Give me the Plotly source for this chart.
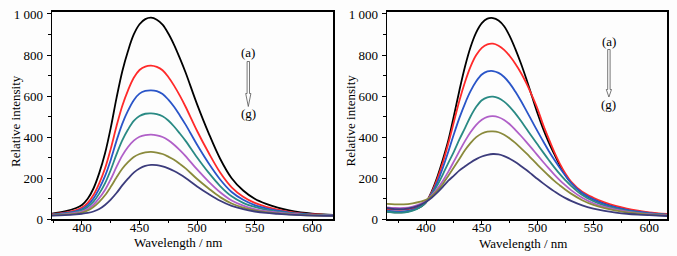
import plotly.graph_objects as go

# ---------------- data: left panel ----------------
wl_left = [374, 385, 395, 400, 405, 410, 415, 420, 425, 430, 435, 440, 445, 450, 455, 460,
           465, 470, 475, 480, 485, 490, 500, 510, 520, 530, 540, 550, 560, 570, 580, 590,
           600, 610, 618]
left_a = [28, 38, 55, 70, 100, 150, 225, 320, 445, 590, 720, 820, 900, 950, 975, 982,
          972, 948, 905, 850, 785, 715, 560, 420, 295, 200, 140, 100, 75, 57, 43, 34,
          28, 24, 22]
left_b = [25, 32, 45, 57, 80, 118, 175, 247, 343, 453, 552, 628, 689, 727, 744, 748,
          742, 726, 693, 651, 602, 548, 430, 324, 228, 156, 110, 80, 61, 47, 36, 29,
          25, 22, 20]
left_c = [23, 30, 40, 50, 69, 101, 149, 210, 289, 382, 465, 529, 580, 612, 625, 628,
          624, 610, 583, 548, 506, 461, 363, 273, 194, 133, 95, 69, 53, 42, 33, 27,
          23, 21, 19]
left_d = [22, 27, 36, 44, 60, 86, 125, 175, 240, 316, 384, 437, 479, 503, 514, 516,
          512, 502, 481, 452, 418, 382, 301, 227, 162, 112, 80, 60, 46, 37, 30, 25,
          22, 20, 19]
left_e = [20, 25, 32, 38, 50, 71, 103, 143, 195, 255, 310, 352, 383, 402, 410, 412,
          409, 401, 385, 363, 337, 308, 243, 184, 132, 92, 67, 50, 40, 33, 27, 23,
          20, 19, 18]
left_f = [19, 23, 28, 33, 43, 60, 85, 117, 158, 204, 246, 278, 303, 318, 326, 328,
          325, 318, 305, 290, 270, 248, 196, 150, 108, 77, 57, 43, 35, 29, 24, 21,
          19, 18, 17]
left_g = [18, 20, 24, 27, 31, 38, 50, 70, 96, 128, 165, 198, 227, 247, 260, 265,
          264, 258, 248, 235, 219, 201, 160, 123, 90, 65, 49, 38, 31, 27, 23, 20,
          18, 17, 17]

# ---------------- data: right panel ----------------
wl_right = [365, 372, 380, 388, 395, 400, 405, 410, 415, 420, 425, 430, 435, 440, 445, 450,
            455, 460, 465, 470, 475, 480, 485, 490, 495, 500, 505, 510, 515, 520, 525, 530,
            540, 550, 560, 570, 580, 590, 600, 616]
right_a = [37, 34, 35, 45, 60, 82, 135, 205, 290, 385, 505, 630, 745, 840, 910, 955,
           977, 980, 968, 940, 892, 830, 760, 682, 598, 515, 440, 375, 317, 262, 215, 178,
           128, 97, 76, 60, 48, 38, 31, 23]
right_b = [50, 47, 47, 53, 64, 85, 130, 195, 275, 370, 475, 580, 670, 745, 800, 835,
           852, 855, 845, 825, 795, 758, 714, 662, 602, 537, 460, 392, 327, 270, 222, 184,
           134, 105, 82, 65, 52, 42, 34, 26]
right_c = [42, 38, 38, 46, 62, 85, 125, 180, 250, 330, 415, 495, 565, 625, 672, 705,
           720, 722, 713, 693, 662, 622, 577, 528, 478, 428, 380, 333, 290, 250, 212, 178,
           128, 97, 74, 58, 46, 37, 30, 23]
right_d = [38, 33, 33, 42, 60, 84, 120, 165, 218, 275, 330, 390, 445, 502, 548, 580,
           594, 597, 590, 573, 548, 516, 480, 441, 402, 364, 326, 289, 253, 220, 190, 163,
           118, 88, 67, 52, 41, 33, 27, 21]
right_e = [58, 55, 55, 62, 75, 90, 116, 148, 187, 232, 282, 333, 382, 425, 460, 485,
           499, 502, 497, 484, 463, 436, 407, 376, 344, 311, 279, 248, 218, 190, 165, 142,
           105, 78, 60, 47, 37, 30, 25, 19]
right_f = [75, 73, 73, 78, 86, 95, 112, 138, 172, 212, 253, 295, 337, 372, 400, 418,
           427, 428, 424, 412, 394, 372, 347, 321, 293, 265, 238, 212, 187, 165, 144, 125,
           93, 70, 54, 42, 34, 28, 23, 18]
right_g = [55, 50, 50, 57, 70, 85, 105, 130, 158, 188, 213, 238, 258, 277, 293, 306,
           314, 318, 316, 308, 295, 279, 260, 240, 218, 196, 175, 155, 136, 118, 103, 90,
           68, 52, 41, 33, 27, 23, 20, 16]

series_names = ["(a)", "(b)", "(c)", "(d)", "(e)", "(f)", "(g)"]
series_colors = ["#000000", "#ff2a2a", "#2a55c8", "#2a8a84", "#b060c8", "#8a8a3c", "#3c3c7c"]

y_tickvals = [0, 200, 400, 600, 800, 1000]
y_ticktext = ["0", "200", "400", "600", "800", "1 000"]
x_tickvals = [400, 450, 500, 550, 600]

left_series = [left_a, left_b, left_c, left_d, left_e, left_f, left_g]
right_series = [right_a, right_b, right_c, right_d, right_e, right_f, right_g]

fig = go.Figure()
for name, col, ys in zip(series_names, series_colors, left_series):
    fig.add_trace(go.Scatter(x=wl_left, y=ys, mode="lines", name=name,
                             line=dict(color=col, width=1.8, shape="spline", smoothing=1.0),
                             xaxis="x", yaxis="y", showlegend=False))
for name, col, ys in zip(series_names, series_colors, right_series):
    fig.add_trace(go.Scatter(x=wl_right, y=ys, mode="lines", name=name,
                             line=dict(color=col, width=1.8, shape="spline", smoothing=1.0),
                             xaxis="x2", yaxis="y2", showlegend=False))

FONT = "Liberation Serif, Times New Roman, serif"
W, H = 677, 256

def px_x(p):
    return p / W

def px_y(p):
    return 1 - p / H

common_x = dict(showline=True, linecolor="black", linewidth=1.5, mirror=True,
                ticks="outside", ticklen=4, tickwidth=1, tickcolor="black",
                tickvals=x_tickvals, showgrid=False, zeroline=False, automargin=False,
                ticklabelstandoff=-8,
                tickfont=dict(family=FONT, size=13, color="black"),
                minor=dict(ticks="outside", ticklen=2.5, tickwidth=1, tickcolor="black", dtick=25,
                           showgrid=False))
common_y = dict(showline=True, linecolor="black", linewidth=1.5, mirror=True,
                ticks="outside", ticklen=4, tickwidth=1, tickcolor="black",
                tickvals=y_tickvals, ticktext=y_ticktext, showgrid=False, zeroline=False,
                range=[0, 1011], automargin=False, ticklabelstandoff=1,
                tickfont=dict(family=FONT, size=13, color="black"),
                minor=dict(ticks="outside", ticklen=2.5, tickwidth=1, tickcolor="black", dtick=100,
                           showgrid=False))

ydom = [px_y(219.3), px_y(11.7)]
fig.update_layout(
    width=W, height=H,
    margin=dict(l=0, r=0, t=0, b=0, autoexpand=False),
    paper_bgcolor="#fdfdfd", plot_bgcolor="#fdfdfd",
    xaxis=dict(common_x, domain=[px_x(52), px_x(333)], range=[374, 618], anchor="y"),
    yaxis=dict(common_y, domain=ydom, anchor="x"),
    xaxis2=dict(common_x, domain=[px_x(387), px_x(667)], range=[365, 616], anchor="y2"),
    yaxis2=dict(common_y, domain=ydom, anchor="x2"),
)

title_font = dict(family=FONT, size=13, color="black")

def add_text(xc, yc, text, angle=0):
    fig.add_annotation(x=px_x(xc), y=px_y(yc), xref="paper", yref="paper",
                       xanchor="center", yanchor="middle",
                       text=text, showarrow=False, font=title_font, textangle=angle)

# axis titles
add_text(178, 242, "Wavelength / nm")
add_text(523, 243, "Wavelength / nm")
add_text(15, 121, "Relative intensity", -90)
add_text(349.5, 121, "Relative intensity", -90)

# (a) -> (g) hollow arrows
def add_arrow(cx, y_a, y_top, y_shaft_end, y_tip, y_g):
    add_text(cx, y_a, "(a)")
    add_text(cx, y_g, "(g)")
    hw = 1.2
    path = (f"M {px_x(cx-hw)},{px_y(y_top)} L {px_x(cx-hw)},{px_y(y_shaft_end)} "
            f"L {px_x(cx-2.6)},{px_y(y_shaft_end)} L {px_x(cx)},{px_y(y_tip)} "
            f"L {px_x(cx+2.6)},{px_y(y_shaft_end)} L {px_x(cx+hw)},{px_y(y_shaft_end)} "
            f"L {px_x(cx+hw)},{px_y(y_top)} Z")
    fig.add_shape(type="path", path=path, xref="paper", yref="paper",
                  line=dict(color="#555555", width=0.8), fillcolor="rgba(255,255,255,0)")

add_arrow(248.3, 52.5, 61.5, 93.5, 106.5, 113.5)
add_arrow(608.9, 41.5, 49.5, 89.5, 97.0, 104.0)

fig.write_html("out.html",
               config={"displayModeBar": False, "staticPlot": True},
               post_script="document.body.style.margin='0px';"
                           "document.body.style.overflow='hidden';"
                           "document.documentElement.style.overflow='hidden';")
